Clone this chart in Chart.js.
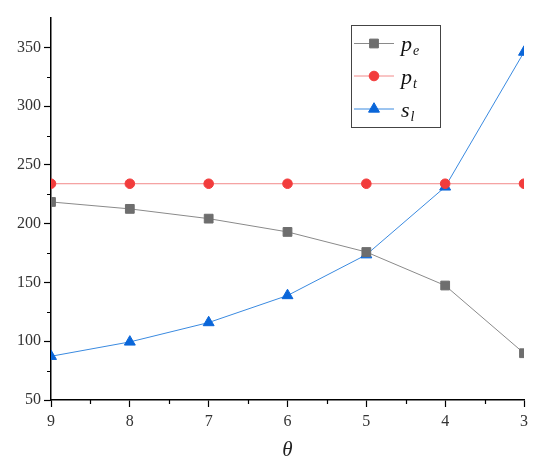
<!DOCTYPE html>
<html>
<head>
<meta charset="utf-8">
<style>
html,body{margin:0;padding:0;background:#fff;}
canvas{display:block;}
</style>
<script src="https://cdn.jsdelivr.net/npm/chart.js@4/dist/chart.umd.min.js"></script>
</head>
<body>
<canvas id="c" width="550" height="468"></canvas>
<script>
const thetaLabels = ['9', '8', '7', '6', '5', '4', '3'];
const peValues = [218.5, 212.6, 204.3, 193.0, 175.9, 147.4, 89.8];
const ptValues = [234, 234, 234, 234, 234, 234, 234];
const slValues = [87.2, 99.4, 115.9, 138.9, 173.6, 231.3, 346.0];
const seriesNames = [['p', 'e'], ['p', 't'], ['s', 'l']];
const yTickValues = [50, 100, 150, 200, 250, 300, 350];

const SERIF = "'Liberation Serif', 'DejaVu Serif', serif";

const minorTicks = {
  id: 'minorTicks',
  afterDraw(chart) {
    const ctx = chart.ctx;
    const x = chart.scales.x, y = chart.scales.y;
    const area = chart.chartArea;
    ctx.save();
    ctx.strokeStyle = '#000';
    ctx.lineWidth = 1.2;
    ctx.beginPath();
    for (let i = 0; i < thetaLabels.length - 1; i++) {
      const px = Math.round(x.getPixelForValue(i + 0.5)) + 0.5;
      ctx.moveTo(px, area.bottom);
      ctx.lineTo(px, area.bottom + 4);
    }
    for (let v = 75; v < y.max; v += 50) {
      const py = Math.round(y.getPixelForValue(v)) + 0.5;
      ctx.moveTo(area.left, py);
      ctx.lineTo(area.left - 4, py);
    }
    ctx.stroke();
    ctx.restore();
  }
};

const customLegend = {
  id: 'customLegend',
  afterDraw(chart) {
    const ctx = chart.ctx;
    const bx = 351.5, by = 25.5, bw = 89, bh = 102;
    ctx.save();
    ctx.strokeStyle = '#444';
    ctx.lineWidth = 1;
    ctx.strokeRect(bx, by, bw, bh);
    const rows = [43.5, 76, 109];
    chart.data.datasets.forEach((ds, i) => {
      const cy = rows[i];
      ctx.strokeStyle = ds.borderColor;
      ctx.lineWidth = ds.borderWidth;
      ctx.beginPath();
      ctx.moveTo(354, cy);
      ctx.lineTo(394, cy);
      ctx.stroke();
      ctx.fillStyle = ds.pointBackgroundColor;
      ctx.strokeStyle = ds.pointBorderColor;
      ctx.lineWidth = 1;
      Chart.helpers.drawPoint(ctx, {pointStyle: ds.pointStyle, rotation: 0, radius: ds.pointRadius, borderWidth: 1}, 374, cy);
      const name = seriesNames[i];
      ctx.fillStyle = '#111';
      ctx.textBaseline = 'alphabetic';
      ctx.textAlign = 'left';
      ctx.font = "italic 22px " + SERIF;
      const base = cy + 7.5;
      ctx.fillText(name[0], 401, base);
      const w = ctx.measureText(name[0]).width;
      ctx.font = "italic 14px " + SERIF;
      ctx.fillText(name[1], 401 + w + 1, base + 4);
    });
    ctx.restore();
  }
};

new Chart(document.getElementById('c'), {
  type: 'line',
  data: {
    labels: thetaLabels,
    datasets: [
      {
        label: 'pe', data: peValues,
        borderColor: '#8a8a8a', borderWidth: 1,
        pointStyle: 'rect', pointRadius: 6.2,
        pointBackgroundColor: '#6e6e6e', pointBorderColor: '#6e6e6e', pointBorderWidth: 1,
        tension: 0, clip: 0
      },
      {
        label: 'pt', data: ptValues,
        borderColor: '#f28a8a', borderWidth: 1,
        pointStyle: 'circle', pointRadius: 4.8,
        pointBackgroundColor: '#f23c3c', pointBorderColor: '#f23c3c', pointBorderWidth: 1,
        tension: 0, clip: 0
      },
      {
        label: 'sl', data: slValues,
        borderColor: '#3a8ae0', borderWidth: 1,
        pointStyle: 'triangle', pointRadius: 6.3,
        pointBackgroundColor: '#0a66d9', pointBorderColor: '#0a66d9', pointBorderWidth: 1,
        tension: 0, clip: 0
      }
    ]
  },
  options: {
    responsive: false,
    animation: false,
    devicePixelRatio: 1,
    layout: {padding: {top: 18, right: 26, left: 0, bottom: 0}},
    plugins: {legend: {display: false}, tooltip: {enabled: false}},
    scales: {
      x: {
        type: 'category',
        offset: false,
        afterFit(s) { s.height = 68; },
        grid: {display: true, drawOnChartArea: false, drawTicks: true, tickLength: 7, tickColor: '#000', tickWidth: 1.2},
        border: {display: true, color: '#000', width: 1.5},
        ticks: {color: '#333', font: {family: SERIF, size: 16}, padding: 5, maxRotation: 0, autoSkip: false},
        title: {display: true, text: 'θ', color: '#222', font: {family: SERIF, size: 21, style: 'italic'}, padding: {top: 4, bottom: 5}}
      },
      y: {
        type: 'linear',
        min: 50, max: 375,
        afterFit(s) { s.width = 51; },
        afterBuildTicks(s) { s.ticks = yTickValues.map(v => ({value: v})); },
        grid: {display: true, drawOnChartArea: false, drawTicks: true, tickLength: 7, tickColor: '#000', tickWidth: 1.2},
        border: {display: true, color: '#000', width: 1.5},
        ticks: {color: '#333', font: {family: SERIF, size: 16}, padding: 3}
      }
    }
  },
  plugins: [minorTicks, customLegend]
});
</script>
</body>
</html>
